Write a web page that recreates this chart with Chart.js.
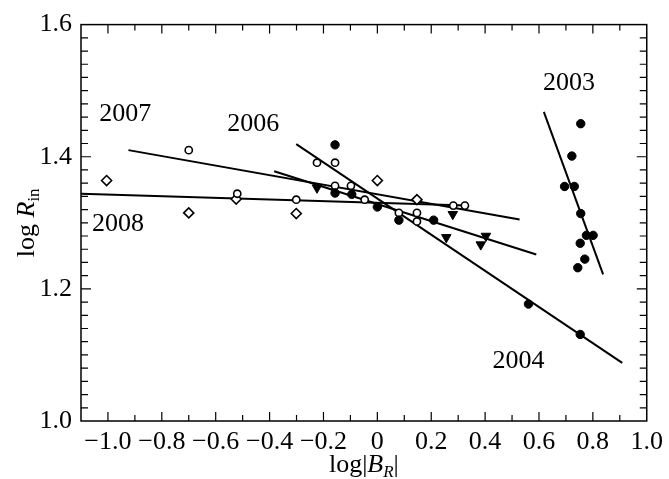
<!DOCTYPE html>
<html>
<head>
<meta charset="utf-8">
<script src="https://cdn.jsdelivr.net/npm/chart.js@4.4.0/dist/chart.umd.min.js"></script>
<style>
  html, body { margin: 0; padding: 0; background: #fff; }
</style>
</head>
<body>
<canvas id="chart" width="669" height="479"></canvas>
<script>
// axis ticks
const xTicks = [-1.0, -0.8, -0.6, -0.4, -0.2, 0, 0.2, 0.4, 0.6, 0.8, 1.0];
const yTicks = [1.0, 1.2, 1.4, 1.6];

// filled circles
const x2003 = [0.755, 0.722, 0.695, 0.731, 0.755, 0.776, 0.801, 0.753, 0.770, 0.744];
const y2003 = [1.450, 1.401, 1.355, 1.355, 1.314, 1.281, 1.281, 1.269, 1.245, 1.232];
const x2004 = [-0.157, -0.157, -0.095, 0.0, 0.080, 0.209, 0.561, 0.753];
const y2004 = [1.418, 1.345, 1.343, 1.324, 1.304, 1.304, 1.177, 1.131];
// filled triangles
const x2006 = [-0.224, 0.280, 0.256, 0.403, 0.384];
const y2006 = [1.353, 1.313, 1.278, 1.280, 1.267];
// open circles
const x2007 = [-0.700, -0.520, -0.301, -0.224, -0.157, -0.157, -0.098, -0.047, 0.080, 0.147, 0.147, 0.282, 0.325];
const y2007 = [1.410, 1.344, 1.335, 1.391, 1.391, 1.356, 1.356, 1.335, 1.315, 1.315, 1.302, 1.326, 1.326];
// open diamonds
const x2008 = [-1.005, -0.700, -0.524, -0.301, 0.0, 0.147];
const y2008 = [1.364, 1.315, 1.336, 1.314, 1.364, 1.335];

// fitted lines (end points)
const fit2003X = [0.618, 0.838], fit2003Y = [1.468, 1.222];
const fit2004X = [-0.301, 0.909], fit2004Y = [1.419, 1.088];
const fit2006X = [-0.383, 0.590], fit2006Y = [1.378, 1.252];
const fit2007X = [-0.924, 0.528], fit2007Y = [1.410, 1.305];
const fit2008X = [-1.1, 0.33], fit2008Y = [1.344, 1.326];

// year labels
const yearText = ['2003', '2004', '2006', '2007', '2008'];
const yearX = [0.711, 0.524, -0.461, -0.936, -0.963];
const yearY = [1.512, 1.091, 1.449, 1.464, 1.298];

const serif = '"Liberation Serif", "DejaVu Serif", serif';

function pts(xs, ys) {
  return xs.map((x, i) => ({ x: x, y: ys[i] }));
}

function fitLine(xs, ys) {
  return {
    type: 'line', data: pts(xs, ys), showLine: true,
    borderColor: '#000', borderWidth: 2, pointRadius: 0, fill: false
  };
}

// frame, inner ticks, year labels and axis titles
const decor = {
  id: 'decor',
  afterDraw(chart) {
    const ctx = chart.ctx;
    const a = chart.chartArea;
    const xs = chart.scales.x, ys = chart.scales.y;
    ctx.save();
    ctx.strokeStyle = '#000';
    ctx.lineWidth = 1.5;
    ctx.strokeRect(a.left, a.top, a.right - a.left, a.bottom - a.top);

    ctx.lineWidth = 1.2;
    ctx.beginPath();
    for (let i = -10; i <= 9; i++) {
      const v = i / 10;
      const px = xs.getPixelForValue(v);
      const len = (i % 2 === 0) ? 9 : 6;
      ctx.moveTo(px, a.bottom); ctx.lineTo(px, a.bottom - len);
      ctx.moveTo(px, a.top); ctx.lineTo(px, a.top + len);
    }
    for (let i = 1; i < 30; i++) {
      const v = 1 + i * 0.02;
      const py = ys.getPixelForValue(v);
      const len = (i % 10 === 0) ? 10 : 7;
      ctx.moveTo(a.left, py); ctx.lineTo(a.left + len, py);
      ctx.moveTo(a.right, py); ctx.lineTo(a.right - len, py);
    }
    ctx.stroke();

    ctx.fillStyle = '#000';
    ctx.textAlign = 'center';
    ctx.textBaseline = 'middle';
    ctx.font = '26px ' + serif;
    yearText.forEach((t, i) => {
      ctx.fillText(t, xs.getPixelForValue(yearX[i]), ys.getPixelForValue(yearY[i]));
    });

    // text runs: [text, font, baseline shift]
    function drawRuns(runs, cx, cy) {
      let total = 0;
      runs.forEach(r => { ctx.font = r[1]; total += ctx.measureText(r[0]).width; });
      let x = cx - total / 2;
      ctx.textAlign = 'left';
      ctx.textBaseline = 'alphabetic';
      runs.forEach(r => {
        ctx.font = r[1];
        ctx.fillText(r[0], x, cy + r[2]);
        x += ctx.measureText(r[0]).width;
      });
    }

    const normal = '26px ' + serif;
    const ital = 'italic 26px ' + serif;
    const sub = '17px ' + serif;
    const subIt = 'italic 17px ' + serif;

    drawRuns([['log|', normal, 0], ['B', ital, 0], ['R', subIt, 5], ['|', normal, 0]],
      (a.left + a.right) / 2, 472);

    ctx.translate(34, (a.top + a.bottom) / 2);
    ctx.rotate(-Math.PI / 2);
    drawRuns([['log ', normal, 0], ['R', ital, 0], ['in', sub, 5]], 0, 0);
    ctx.restore();
  }
};

new Chart(document.getElementById('chart'), {
  type: 'scatter',
  data: {
    datasets: [
      { label: '2003', data: pts(x2003, y2003), backgroundColor: '#000', borderColor: '#000', pointRadius: 4.2, pointStyle: 'circle' },
      { label: '2004', data: pts(x2004, y2004), backgroundColor: '#000', borderColor: '#000', pointRadius: 4.2, pointStyle: 'circle' },
      { label: '2006', data: pts(x2006, y2006), backgroundColor: '#000', borderColor: '#000', pointRadius: 5.5, pointStyle: 'triangle', rotation: 180 },
      { label: '2007', data: pts(x2007, y2007), backgroundColor: '#fff', borderColor: '#000', borderWidth: 1.6, pointRadius: 3.6, pointStyle: 'circle' },
      { label: '2008', data: pts(x2008, y2008), backgroundColor: '#fff', borderColor: '#000', borderWidth: 1.6, pointRadius: 5, pointStyle: 'rectRot' },
      fitLine(fit2003X, fit2003Y),
      fitLine(fit2004X, fit2004Y),
      fitLine(fit2006X, fit2006Y),
      fitLine(fit2007X, fit2007Y),
      fitLine(fit2008X, fit2008Y)
    ]
  },
  options: {
    responsive: false,
    animation: false,
    devicePixelRatio: 1,
    layout: { padding: { top: 22, right: 18, left: 0, bottom: 0 } },
    plugins: { legend: { display: false }, tooltip: { enabled: false } },
    scales: {
      x: {
        type: 'linear', min: -1.1, max: 1.0,
        grid: { display: false, drawTicks: false },
        border: { display: false },
        afterBuildTicks: s => { s.ticks = xTicks.map(v => ({ value: v })); },
        afterFit: s => { s.height = 58; },
        ticks: {
          autoSkip: false, maxRotation: 0, padding: 6, color: '#000',
          font: { family: serif, size: 26 },
          callback: v => v === 0 ? '0' : (v < 0 ? '\u2212' : '') + Math.abs(v).toFixed(1)
        }
      },
      y: {
        type: 'linear', min: 1.0, max: 1.6,
        grid: { display: false, drawTicks: false },
        border: { display: false },
        afterBuildTicks: s => { s.ticks = yTicks.map(v => ({ value: v })); },
        afterFit: s => { s.width = 81; },
        ticks: {
          autoSkip: false, padding: 9, color: '#000',
          font: { family: serif, size: 26 },
          callback: v => v.toFixed(1)
        }
      }
    }
  },
  plugins: [decor]
});
</script>
</body>
</html>
